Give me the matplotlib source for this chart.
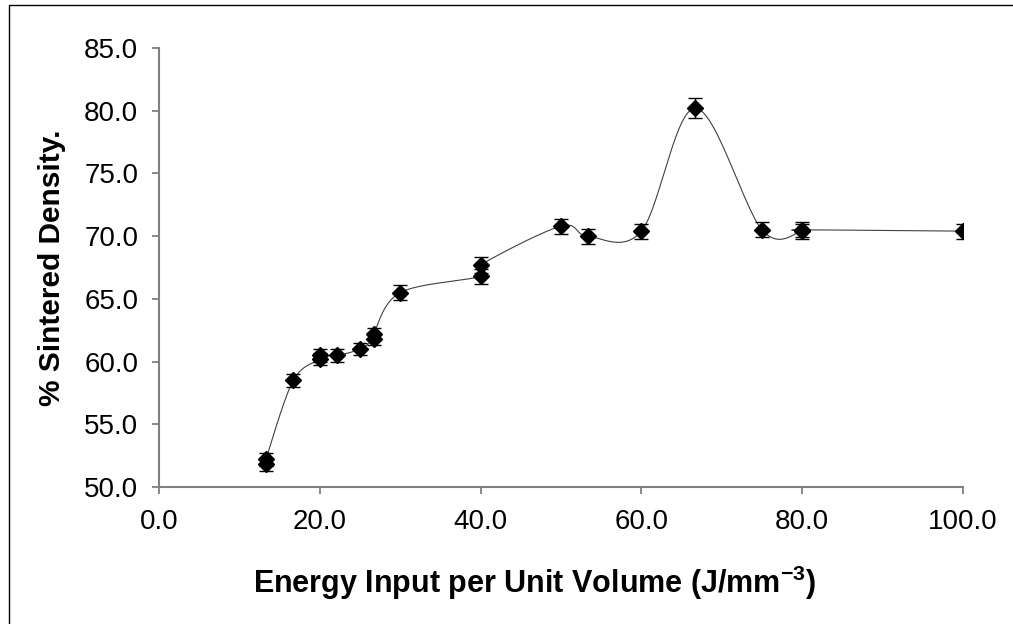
import numpy as np
import matplotlib.pyplot as plt
from matplotlib.patches import Rectangle

plt.rcParams['font.family'] = ['Liberation Sans', 'DejaVu Sans']
plt.rcParams['mathtext.fontset'] = 'custom'
plt.rcParams['mathtext.rm'] = 'Liberation Sans'
plt.rcParams['mathtext.bf'] = 'Liberation Sans:bold'

# Energy density (J/mm^3) vs. sintered density (%), in plotting order
energy = [13.3, 13.3, 16.7, 20.0, 20.0, 22.2, 25.0, 26.7, 26.7, 30.0,
          40.0, 40.0, 50.0, 53.3, 60.0, 66.7, 75.0, 80.0, 80.0, 100.0]
density = [51.8, 52.2, 58.5, 60.2, 60.5, 60.5, 61.0, 61.8, 62.2, 65.5,
           66.8, 67.7, 70.8, 70.0, 70.4, 80.2, 70.5, 70.4, 70.5, 70.4]
err = [0.5, 0.5, 0.5, 0.5, 0.5, 0.5, 0.5, 0.5, 0.5, 0.6,
       0.6, 0.6, 0.6, 0.6, 0.6, 0.8, 0.6, 0.6, 0.6, 0.6]

xticks = [0, 20, 40, 60, 80, 100]
yticks = [50, 55, 60, 65, 70, 75, 80, 85]


def smooth(xs, ys, n=30):
    # Excel-style smoothed line: cubic Bezier with Catmull-Rom control points
    p = np.column_stack([xs, ys]).astype(float)
    out = []
    t = np.linspace(0, 1, n)[:, None]
    for i in range(len(p) - 1):
        p0 = p[max(i - 1, 0)]
        p1, p2 = p[i], p[i + 1]
        p3 = p[min(i + 2, len(p) - 1)]
        c1 = p1 + (p2 - p0) / 6
        c2 = p2 - (p3 - p1) / 6
        seg = ((1 - t) ** 3) * p1 + 3 * ((1 - t) ** 2) * t * c1 \
            + 3 * (1 - t) * t ** 2 * c2 + t ** 3 * p2
        out.append(seg)
    out = np.vstack(out)
    return out[:, 0], out[:, 1]


fig = plt.figure(figsize=(10.13, 6.24), dpi=100)
ax = fig.add_axes([159 / 1013, 1 - 487 / 624, (963 - 159) / 1013, (487 - 48) / 624])

sx, sy = smooth(energy, density)
ax.plot(sx, sy, color='#404040', lw=0.8, zorder=2)
ax.errorbar(energy, density, yerr=err, fmt='D', color='black', ms=8.5,
            ecolor='black', elinewidth=1.0, capsize=5, capthick=1.0, zorder=3)

ax.set_xlim(0, 100)
ax.set_ylim(50, 85)
ax.set_xticks(xticks)
ax.set_yticks(yticks)
ax.set_xticklabels([f'{v:.1f}' for v in xticks])
ax.set_yticklabels([f'{v:.1f}' for v in yticks])
ax.tick_params(direction='out', length=5, width=1.3, color='#808080',
               labelsize=20)
ax.tick_params(axis='x', pad=11)
ax.tick_params(axis='y', pad=10)

for side in ['top', 'right']:
    ax.spines[side].set_visible(False)
for side in ['left', 'bottom']:
    ax.spines[side].set_color('#808080')
    ax.spines[side].set_linewidth(1.5)

fig.text(535 / 1013, 1 - 583 / 624,
         'Energy Input per Unit Volume (J/mm$^{\\mathbf{-3}}$)',
         fontsize=22, fontweight='bold', ha='center', va='center')
fig.text(52 / 1013, 1 - 268 / 624, '% Sintered Density.', fontsize=21.5,
         fontweight='bold', rotation=90, ha='center', va='center')

# outer chart border (right and bottom edges fall outside the image)
fig.patches.append(Rectangle((9 / 1013, -0.02), 1.0, 1 - 5 / 624 + 0.02,
                             transform=fig.transFigure, fill=False,
                             edgecolor='black', lw=1.0))

fig.savefig('out.png', dpi=100)
